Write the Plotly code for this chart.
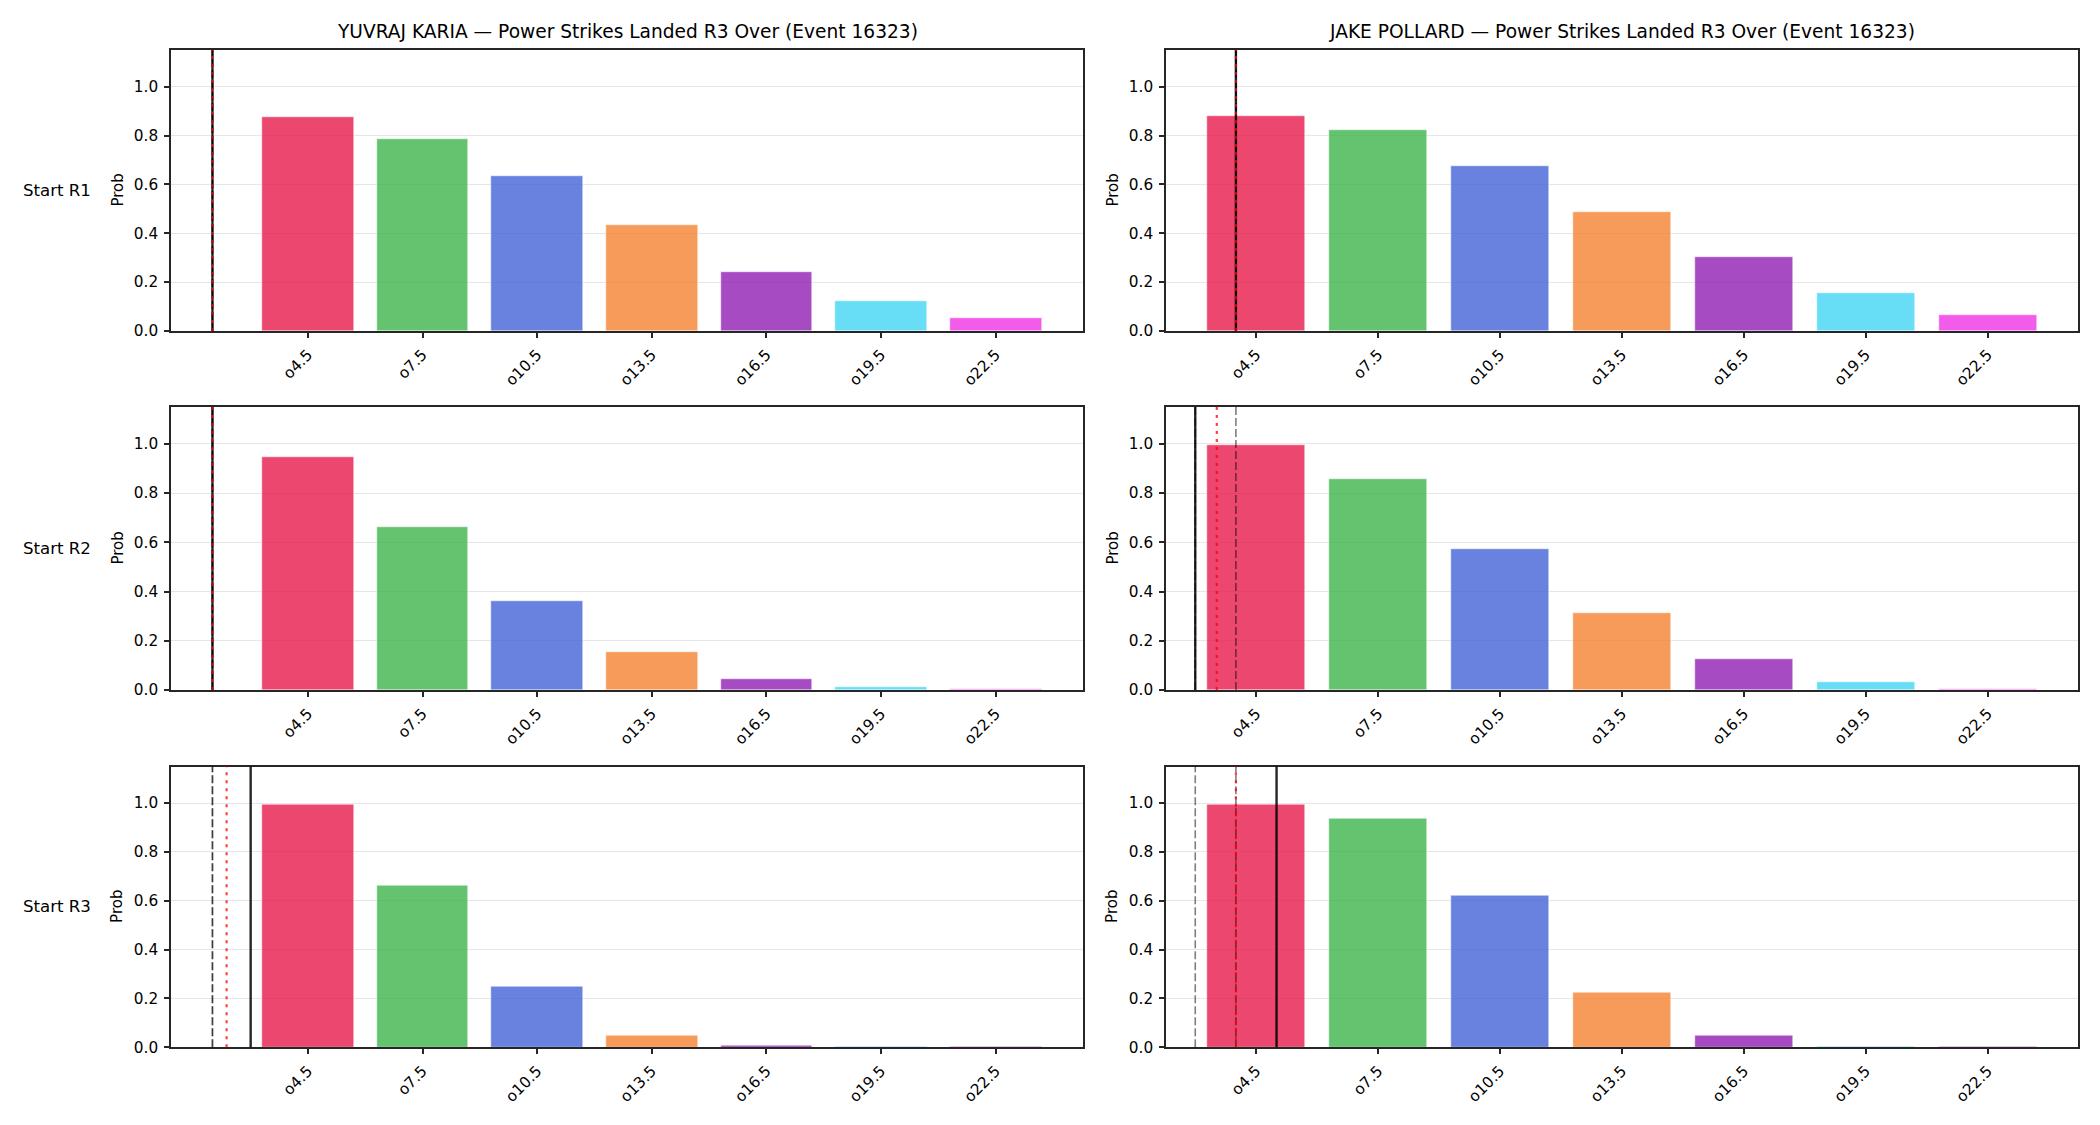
import plotly.graph_objects as go

# ---------------- data ----------------
thresholds = [4.5, 7.5, 10.5, 13.5, 16.5, 19.5, 22.5]
tick_labels = ["o4.5", "o7.5", "o10.5", "o13.5", "o16.5", "o19.5", "o22.5"]
fighters = ["YUVRAJ KARIA", "JAKE POLLARD"]
row_labels = ["Start R1", "Start R2", "Start R3"]
event_id = "16323"
market = "Power Strikes Landed R3 Over"

# probabilities [fighter][row]
karia_r1 = [0.874, 0.785, 0.636, 0.434, 0.242, 0.121, 0.055]
karia_r2 = [0.947, 0.661, 0.362, 0.153, 0.044, 0.011, 0.004]
karia_r3 = [0.996, 0.664, 0.247, 0.049, 0.006, 0.004, 0.004]
pollard_r1 = [0.881, 0.821, 0.677, 0.489, 0.302, 0.154, 0.066]
pollard_r2 = [0.996, 0.857, 0.575, 0.311, 0.126, 0.033, 0.005]
pollard_r3 = [0.996, 0.938, 0.620, 0.224, 0.049, 0.004, 0.004]
probs = [[karia_r1, karia_r2, karia_r3], [pollard_r1, pollard_r2, pollard_r3]]

# reference lines (in strike units) [fighter][row]
solid_lines = [[2.0, 2.0, 3.0], [4.0, 3.0, 5.0]]
dashed_lines = [[[2.0, 2.0], [2.0, 2.0], [2.0, 2.0]],
                [[4.0, 4.0], [3.0, 4.0], [3.0, 4.0]]]
dotted_lines = [[2.0, 2.0, 2.37], [4.0, 3.53, 4.0]]

bar_colors = ["rgba(230,25,75,0.8)", "rgba(60,180,75,0.8)", "rgba(67,99,216,0.8)",
              "rgba(245,130,49,0.8)", "rgba(145,30,180,0.8)", "rgba(66,212,244,0.8)",
              "rgba(240,50,230,0.8)"]

# ---------------- layout geometry ----------------
W, H = 2100, 1125
col_px = [(171, 1083), (1166, 2078)]
row_px = [(50, 331), (407, 690), (766.5, 1047.3)]
x_ranges = [[0.915, 24.785], [2.28, 24.72]]
FONT = "DejaVu Sans"
AX_COLOR = "#262626"
TICK_SIZE = 15.3

fig = go.Figure()
layout = dict(width=W, height=H, autosize=False, margin=dict(l=0, r=0, t=0, b=0, pad=0),
              plot_bgcolor="white", paper_bgcolor="white", showlegend=False,
              font=dict(family=FONT, size=14, color="black"), bargap=0)
shapes = []
annotations = []

idx = 0
for c in range(2):
    for r in range(3):
        idx += 1
        xa = "x" if idx == 1 else f"x{idx}"
        ya = "y" if idx == 1 else f"y{idx}"
        xkey = "xaxis" if idx == 1 else f"xaxis{idx}"
        ykey = "yaxis" if idx == 1 else f"yaxis{idx}"
        fig.add_trace(go.Bar(
            x=thresholds, y=probs[c][r], width=2.4,
            marker=dict(color=bar_colors, line=dict(color="white", width=0.5)),
            xaxis=xa, yaxis=ya, hoverinfo="skip"))
        x0, x1 = col_px[c]
        y0, y1 = row_px[r]
        layout[xkey] = dict(domain=[x0 / W, x1 / W], range=x_ranges[c], anchor=ya,
                            tickmode="array", tickvals=thresholds, ticktext=tick_labels,
                            tickangle=-45, ticks="outside", ticklen=5, tickwidth=1.6,
                            tickcolor=AX_COLOR, showline=True, mirror=True,
                            linecolor=AX_COLOR, linewidth=1.6, showgrid=False,
                            ticklabelstandoff=2, automargin=False,
                            zeroline=False, tickfont=dict(family=FONT, size=TICK_SIZE, color="black"))
        layout[ykey] = dict(domain=[1 - y1 / H, 1 - y0 / H], range=[0, 1.15], anchor=xa,
                            tickmode="array", tickvals=[0, 0.2, 0.4, 0.6, 0.8, 1.0],
                            ticktext=["0.0", "0.2", "0.4", "0.6", "0.8", "1.0"],
                            ticks="outside", ticklen=5, tickwidth=1.6, tickcolor=AX_COLOR,
                            showline=True, mirror=True, linecolor=AX_COLOR, linewidth=1.6,
                            showgrid=True, gridcolor="#e6e6e6", gridwidth=1, zeroline=False,
                            ticklabelstandoff=3, automargin=False,
                            tickfont=dict(family=FONT, size=TICK_SIZE, color="black"))
        yd = f"{ya} domain"
        for dx in dashed_lines[c][r]:
            shapes.append(dict(type="line", xref=xa, yref=yd, x0=dx, x1=dx, y0=0, y1=1,
                               line=dict(color="rgba(0,0,0,0.5)", width=1.6, dash="8px,3px")))
        sx = solid_lines[c][r]
        shapes.append(dict(type="line", xref=xa, yref=yd, x0=sx, x1=sx, y0=0, y1=1,
                           line=dict(color="rgba(0,0,0,0.85)", width=2.4)))
        dt = dotted_lines[c][r]
        shapes.append(dict(type="line", xref=xa, yref=yd, x0=dt, x1=dt, y0=0, y1=1,
                           line=dict(color="rgba(255,0,0,0.75)", width=2.2, dash="3px,5px")))
        # Prob label
        annotations.append(dict(text="Prob", xref="paper", yref="paper",
                                x=(x0 - 54) / W, y=1 - (y0 + y1) / 2 / H,
                                xanchor="center", yanchor="middle", textangle=-90,
                                showarrow=False, font=dict(family=FONT, size=15, color="black")))
        if c == 0:
            annotations.append(dict(text=row_labels[r], xref="paper", yref="paper",
                                    x=57 / W, y=1 - (y0 + y1) / 2 / H,
                                    xanchor="center", yanchor="middle", showarrow=False,
                                    font=dict(family=FONT, size=16.6, color="black")))
    x0, x1 = col_px[c]
    annotations.append(dict(text=f"{fighters[c]} — {market} (Event {event_id})",
                            xref="paper", yref="paper", x=(x0 + x1) / 2 / W, y=1 - 31 / H,
                            xanchor="center", yanchor="middle", showarrow=False,
                            font=dict(family=FONT, size=18.6, color="black")))

layout["shapes"] = shapes
layout["annotations"] = annotations
fig.update_layout(**layout)
fig.write_html("out.html", config={"responsive": False})
